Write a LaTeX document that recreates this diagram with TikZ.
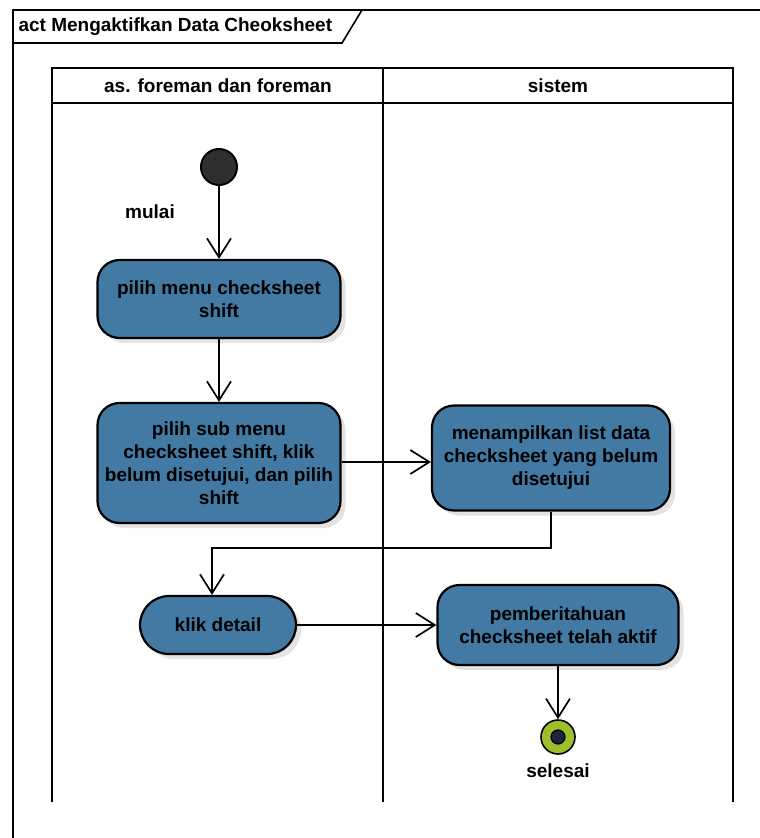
\documentclass[tikz,border=0pt]{standalone}
\usepackage{fontspec}
\setmainfont{Liberation Sans}
\usepackage{tikz}
\usetikzlibrary{arrows.meta,shadows}

\definecolor{actblue}{RGB}{66,122,164}
\definecolor{endgreen}{RGB}{156,192,44}
\definecolor{endnavy}{RGB}{28,36,64}

\begin{document}
\begin{tikzpicture}[x=1pt,y=-1pt,
    font=\fontsize{19}{23}\selectfont\bfseries,
    action/.style={draw=black, line width=2.2pt, fill=actblue, rounded corners=22pt,
        align=center, inner sep=2pt,
        drop shadow={shadow xshift=5pt, shadow yshift=-5pt, fill=black!18, opacity=0.6}},
    flow/.style={line width=1.7pt, -{Straight Barb[length=19pt,width=24pt,line width=1.7pt]}},
    lane/.style={line width=2.6pt}]
    \useasboundingbox (0,0) rectangle (760,838);
    \fill[white] (0,0) rectangle (760,838);

    % Frame and its name tab
    \draw[line width=1.6pt] (13,838) -- (13,10) -- (760,10);
    \draw[line width=1.6pt] (13,43) -- (342,43) -- (362,10);
    \node[anchor=west] (title) at (15,27) {act Mengaktifkan Data Cheoksheet};

    % Swimlanes
    \draw[lane] (52,802) -- (52,68) -- (733,68) -- (733,802);
    \draw[lane] (52,103) -- (733,103);
    \draw[lane] (383,68) -- (383,802);
    \node (lanea) at (218,86) {as. foreman dan foreman};
    \node (laneb) at (558,86) {sistem};

    % Start and end points
    \node[circle, draw=black, line width=2pt, fill=black!82, minimum size=36pt, inner sep=0pt] (start) at (219,167) {};
    \node (mulai) at (150,212) {mulai};
    \node[circle, draw=black, line width=1.6pt, fill=endgreen, minimum size=34pt, inner sep=0pt] (end) at (558,737) {};
    \node[circle, draw=black, line width=1.2pt, fill=endnavy, minimum size=14pt, inner sep=0pt] at (end) {};
    \node (selesai) at (558,771) {selesai};

    % Actions
    \node[action, minimum width=243pt, minimum height=78pt] (menu) at (219,299) {pilih menu checksheet\\shift};
    \node[action, minimum width=243pt, minimum height=120pt] (submenu) at (219,463) {pilih sub menu\\checksheet shift, klik\\belum disetujui, dan pilih\\shift};
    \node[action, minimum width=238pt, minimum height=105pt] (list) at (551,458) {menampilkan list data\\checksheet yang belum\\disetujui};
    \node[action, minimum width=156pt, minimum height=58pt, rounded corners=29pt] (detail) at (218,625) {klik detail};
    \node[action, minimum width=241pt, minimum height=80pt] (aktif) at (558,625) {pemberitahuan\\checksheet telah aktif};

    % Flow
    \coordinate (bend) at (551,548);
    \draw[flow] (start) -- (menu);
    \draw[flow] (menu) -- (submenu);
    \draw[flow] (submenu.east |- 0,462) -- (list.west |- 0,462);
    \draw[flow] (list.south) -- (bend) -| ([xshift=-6pt]detail.north);
    \draw[flow] (detail) -- (aktif);
    \draw[flow] (aktif) -- (end);
\end{tikzpicture}
\end{document}
